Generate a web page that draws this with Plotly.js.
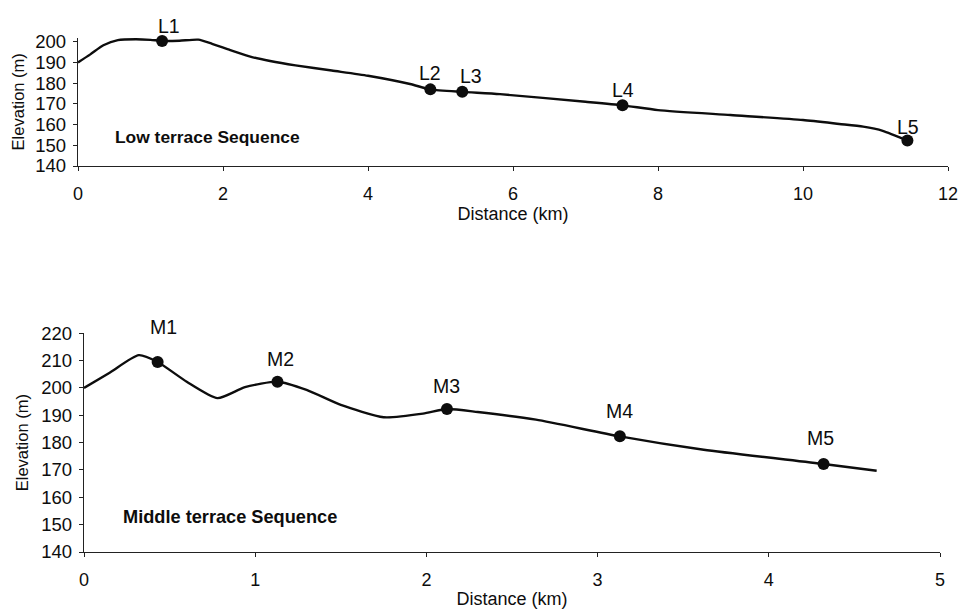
<!DOCTYPE html>
<html>
<head>
<meta charset="utf-8">
<script src="https://cdn.plot.ly/plotly-3.0.1.min.js"></script>
<style>
html,body{margin:0;padding:0;background:#fff;}
#chart{width:959px;height:609px;}
</style>
</head>
<body>
<div id="chart"></div>
<script>
// ---- Low terrace sequence: elevation profile (km, m)
const lowDist = [0, 0.17, 0.35, 0.55, 0.8, 1.0, 1.16, 1.4, 1.66, 1.85, 2.1, 2.4, 2.65, 3.0, 3.5, 4.0, 4.58, 4.86, 5.3, 5.82, 7.0, 7.51, 8.0, 9.0, 10.0, 10.5, 10.83, 11.1, 11.44];
const lowElev = [190, 193.9, 198.3, 200.8, 201.2, 200.9, 200.4, 200.5, 201, 199, 196, 192.6, 190.7, 188.6, 186.1, 183.6, 179.6, 177, 175.8, 174.7, 171, 169.3, 167, 164.6, 162.2, 160.3, 159, 157, 152.3];
// Low terrace sample sites
const lowSites = ["L1", "L2", "L3", "L4", "L5"];
const lowSiteDist = [1.16, 4.86, 5.3, 7.51, 11.44];
const lowSiteElev = [200.4, 177, 175.8, 169.3, 152.3];

// ---- Middle terrace sequence: elevation profile (km, m)
const midDist = [0, 0.15, 0.32, 0.43, 0.6, 0.78, 0.94, 1.13, 1.3, 1.5, 1.75, 1.98, 2.12, 2.3, 2.64, 3.13, 3.62, 4.32, 4.63];
const midElev = [200, 205.6, 212, 209.5, 202.3, 196.3, 200.3, 202.3, 199.3, 193.8, 189.3, 190.6, 192.3, 191.2, 188.4, 182.3, 177.4, 172.2, 169.7];
// Middle terrace sample sites
const midSites = ["M1", "M2", "M3", "M4", "M5"];
const midSiteDist = [0.43, 1.13, 2.12, 3.13, 4.32];
const midSiteElev = [209.5, 202.3, 192.3, 182.3, 172.2];

// tick values
const lowXTicks = [0, 2, 4, 6, 8, 10, 12];
const lowYTicks = [140, 150, 160, 170, 180, 190, 200];
const midXTicks = [0, 1, 2, 3, 4, 5];
const midYTicks = [140, 150, 160, 170, 180, 190, 200, 210, 220];

// ---- styling (label pixel offsets relative to markers)
const lowLabelShift = [[7, 15], [0, 16], [9, 16], [1, 15], [1, 14]];
const midLabelShift = [[6, 35], [3, 23], [0, 23], [0, 25], [-3, 26]];

const FONT = "Liberation Sans, Arial, Helvetica, sans-serif";
const INK = "#0d0d0d";
const lineStyle = {color: INK, width: 2.4, shape: "spline", smoothing: 0.6};
const markerStyle = {color: INK, size: 12};

const traces = [
  {x: lowDist, y: lowElev, xaxis: "x", yaxis: "y", mode: "lines", line: lineStyle, hoverinfo: "skip"},
  {x: lowSiteDist, y: lowSiteElev, xaxis: "x", yaxis: "y", mode: "markers", marker: markerStyle, cliponaxis: false},
  {x: midDist, y: midElev, xaxis: "x2", yaxis: "y2", mode: "lines", line: lineStyle, hoverinfo: "skip"},
  {x: midSiteDist, y: midSiteElev, xaxis: "x2", yaxis: "y2", mode: "markers", marker: markerStyle, cliponaxis: false}
];

const annotations = [];
lowSites.forEach((t, i) => annotations.push({
  xref: "x", yref: "y", x: lowSiteDist[i], y: lowSiteElev[i], text: t, showarrow: false,
  xanchor: "center", yanchor: "middle", xshift: lowLabelShift[i][0], yshift: lowLabelShift[i][1],
  font: {family: FONT, size: 19.5, color: INK}
}));
midSites.forEach((t, i) => annotations.push({
  xref: "x2", yref: "y2", x: midSiteDist[i], y: midSiteElev[i], text: t, showarrow: false,
  xanchor: "center", yanchor: "middle", xshift: midLabelShift[i][0], yshift: midLabelShift[i][1],
  font: {family: FONT, size: 19.5, color: INK}
}));
annotations.push({xref: "x", yref: "y", x: 0.48, y: 154, text: "<b>Low terrace Sequence</b>", showarrow: false,
  xanchor: "left", yanchor: "middle", font: {family: FONT, size: 17.4, color: INK}});
annotations.push({xref: "x2", yref: "y2", x: 0.214, y: 152.8, text: "<b>Middle terrace Sequence</b>", showarrow: false,
  xanchor: "left", yanchor: "middle", font: {family: FONT, size: 18.2, color: INK}});

function xAxis(range, ticks, domain, anchor, standoff) {
  return {
    domain: domain, anchor: anchor, range: range, tickvals: ticks, ticktext: ticks.map(String),
    showline: true, linecolor: "#222", linewidth: 1.3, ticks: "outside", ticklen: 4, tickcolor: "#222",
    showgrid: false, zeroline: false, ticklabelstandoff: 7,
    tickfont: {family: FONT, size: 18, color: INK},
    title: {text: "Distance (km)", standoff: standoff, font: {family: FONT, size: 18, color: INK}}
  };
}
function yAxis(range, ticks, domain, anchor, standoff) {
  return {
    domain: domain, anchor: anchor, range: range, tickvals: ticks, ticktext: ticks.map(String),
    showline: true, linecolor: "#222", linewidth: 1.3, ticks: "outside", ticklen: 4, tickcolor: "#222",
    showgrid: false, zeroline: false, ticklabelstandoff: 3,
    tickfont: {family: FONT, size: 18.5, color: INK},
    title: {text: "Elevation (m)", standoff: standoff, font: {family: FONT, size: 16.5, color: INK}}
  };
}

const layout = {
  width: 959, height: 609,
  margin: {l: 0, r: 0, t: 0, b: 0},
  paper_bgcolor: "#fff", plot_bgcolor: "rgba(0,0,0,0)",
  showlegend: false,
  xaxis: xAxis([0, 12], lowXTicks, [78 / 959, 948 / 959], "y", 0),
  yaxis: yAxis([140, 202], lowYTicks, [1 - 166 / 609, 1 - 37.6 / 609], "x", 6),
  xaxis2: xAxis([0, 5], midXTicks, [84 / 959, 940 / 959], "y2", 12),
  yaxis2: yAxis([140, 220], midYTicks, [1 - 552 / 609, 1 - 333.3 / 609], "x2", 8),
  annotations: annotations
};

Plotly.newPlot("chart", traces, layout, {staticPlot: true, displayModeBar: false});
</script>
</body>
</html>
